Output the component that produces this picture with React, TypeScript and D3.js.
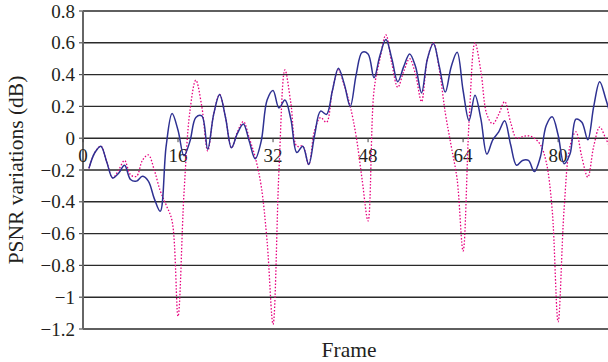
import { useMemo } from "react";
import * as d3 from "d3";

const width = 608;
const height = 362;
const margin = { left: 83, right: 0, top: 11, bottom: 33 };

// frames 1..89
const blueValues = [
  -0.19, -0.09, -0.05, -0.15, -0.25, -0.22, -0.17, -0.26, -0.27, -0.24,
  -0.27, -0.38, -0.46, -0.05, 0.155, 0.05, -0.11, -0.02, 0.13, 0.14,
  -0.07, 0.15, 0.275, 0.13, -0.06, 0.03, 0.09, -0.02, -0.13, -0.02,
  0.24, 0.3, 0.19, 0.24, 0.12, -0.09, -0.05, -0.165, 0.02, 0.17,
  0.15, 0.3, 0.44, 0.34, 0.2, 0.4, 0.54, 0.53, 0.38, 0.52,
  0.62, 0.5, 0.355, 0.45, 0.53, 0.45, 0.285, 0.5, 0.595, 0.45,
  0.29, 0.45, 0.54, 0.3, 0.11, 0.27, 0.12, -0.1, -0.01, 0.04,
  0.11, -0.04, -0.17, -0.14, -0.14, -0.21, -0.12, 0.08, 0.135, 0.02,
  -0.16, -0.1, 0.12, 0.1, -0.01, 0.2, 0.355, 0.25, 0.12,
];

const pinkValues = [
  -0.19, -0.09, -0.05, -0.15, -0.25, -0.2, -0.14, -0.23, -0.24, -0.14,
  -0.105, -0.2, -0.33, -0.42, -0.52, -1.12, -0.35, 0.17, 0.365, 0.2,
  -0.08, 0.15, 0.275, 0.13, -0.06, 0.04, 0.105, 0.0, -0.12, -0.3,
  -0.65, -1.17, -0.2, 0.43, 0.22, -0.05, -0.05, -0.165, 0.05, 0.13,
  0.1, 0.3, 0.43, 0.33, 0.2, 0.01, -0.26, -0.52, 0.3, 0.5,
  0.65, 0.47, 0.32, 0.42, 0.5, 0.4, 0.23, 0.5, 0.6, 0.43,
  0.16, -0.05, -0.26, -0.71, 0.1, 0.6, 0.42, 0.15, 0.09, 0.15,
  0.23, 0.1, 0.0, 0.01, 0.015, 0.0, -0.04, -0.15, -0.45, -1.155,
  -0.45, -0.05, 0.04, -0.12, -0.245, -0.05, 0.07, 0.0, -0.08,
];

const yTicks = [0.8, 0.6, 0.4, 0.2, 0, -0.2, -0.4, -0.6, -0.8, -1, -1.2];
const xTicks = [0, 16, 32, 48, 64, 80];

const fmt = (v: number) => {
  const s = String(Math.abs(v));
  return v < 0 ? "\u2212" + s : s;
};

export default function App() {
  const x = d3
    .scaleLinear()
    .domain([0, 88.4])
    .range([margin.left, width - margin.right]);
  const y = d3
    .scaleLinear()
    .domain([-1.2, 0.8])
    .range([height - margin.bottom, margin.top]);

  const line = useMemo(
    () =>
      d3
        .line<number>()
        .x((_, i) => x(i + 1))
        .y((d) => y(d))
        .curve(d3.curveCatmullRom.alpha(0.5)),
    []
  );

  const font = "'Liberation Serif', 'Times New Roman', serif";

  return (
    <svg
      width={width}
      height={height}
      style={{ position: "absolute", left: 0, top: 0, background: "#fff" }}
    >
      <defs>
        <clipPath id="plot">
          <rect
            x={margin.left}
            y={0}
            width={width - margin.left}
            height={height - margin.bottom + 2}
          />
        </clipPath>
      </defs>

      {/* gridlines */}
      {yTicks.map((t) => (
        <g key={t}>
          <line
            x1={margin.left}
            x2={width}
            y1={y(t)}
            y2={y(t)}
            stroke="#2a2a2a"
            strokeWidth={1.4}
          />
          <line
            x1={margin.left - 4}
            x2={margin.left}
            y1={y(t)}
            y2={y(t)}
            stroke="#555"
            strokeWidth={1.2}
          />
          <text
            x={margin.left - 8}
            y={y(t)}
            dy="0.35em"
            textAnchor="end"
            fontFamily={font}
            fontSize={19}
            fill="#231f20"
          >
            {fmt(t)}
          </text>
        </g>
      ))}

      {/* y axis */}
      <line
        x1={margin.left}
        x2={margin.left}
        y1={y(0.8)}
        y2={y(-1.2)}
        stroke="#666"
        strokeWidth={2}
      />

      {/* x ticks on the zero line */}
      {xTicks.map((t) => (
        <g key={t}>
          <line
            x1={x(t)}
            x2={x(t)}
            y1={y(0)}
            y2={y(0) + 4}
            stroke="#444"
            strokeWidth={1}
          />
          <text
            x={x(t)}
            y={y(0) + 24}
            textAnchor="middle"
            fontFamily={font}
            fontSize={19}
            fill="#231f20"
          >
            {t}
          </text>
        </g>
      ))}

      <g clipPath="url(#plot)">
        <path
          d={line(pinkValues) ?? ""}
          fill="none"
          stroke="#e6007e"
          strokeWidth={1.3}
          strokeDasharray="1.5 1.8"
        />
        <path
          d={line(blueValues) ?? ""}
          fill="none"
          stroke="#2e3192"
          strokeWidth={1.5}
        />
      </g>

      <text
        transform={`translate(23,${(y(0.8) + y(-1.2)) / 2}) rotate(-90)`}
        textAnchor="middle"
        fontFamily={font}
        fontSize={21.5}
        fill="#231f20"
      >
        PSNR variations (dB)
      </text>
      <text
        x={349}
        y={357}
        textAnchor="middle"
        fontFamily={font}
        fontSize={21.5}
        fill="#231f20"
      >
        Frame
      </text>
    </svg>
  );
}
